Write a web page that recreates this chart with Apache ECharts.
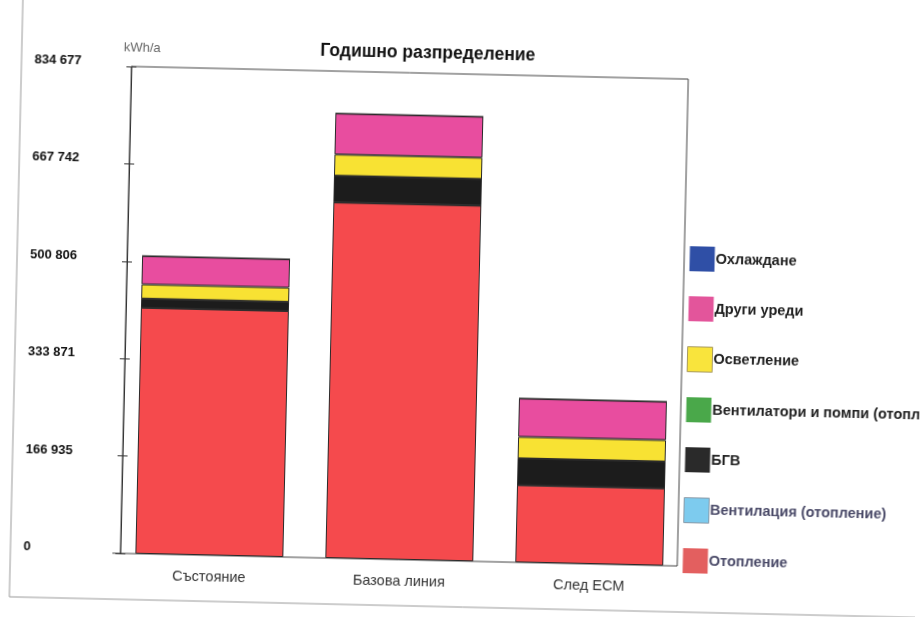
<!DOCTYPE html>
<html>
<head>
<meta charset="utf-8">
<script src="https://cdn.jsdelivr.net/npm/echarts@6/dist/echarts.min.js"></script>
<style>
  html, body { margin: 0; padding: 0; background: #ffffff; overflow: hidden; }
  #chart { width: 922px; height: 617px; transform: rotate(1.3deg); transform-origin: 50% 50%; }
</style>
</head>
<body>
<div id="chart"></div>
<script>
// Annual energy distribution, kWh/a
const categories = ['Състояние', 'Базова линия', 'След ECM'];
const heating     = [421800, 609700, 132500]; // Отопление
const ventHeating = [0, 0, 0];                // Вентилация (отопление)
const dhw         = [15500, 45700, 45800];    // БГВ
const fansPumps   = [0, 0, 0];                // Вентилатори и помпи (отопл.)
const lighting    = [24500, 36500, 36900];    // Осветление
const appliances  = [48600, 70300, 65700];    // Други уреди
const cooling     = [0, 0, 0];                // Охлаждане
const yTickLabels = ['0', '166 935', '333 871', '500 806', '667 742', '834 677'];
const yMax = 834677;

const chart = echarts.init(document.getElementById('chart'));

const border = { borderColor: '#2a2a2a', borderWidth: 1 };
function stackSeries(name, data, color) {
  return {
    name: name, type: 'bar', stack: 'total', data: data, barWidth: 148,
    itemStyle: Object.assign({ color: color }, border)
  };
}

const series = [
  stackSeries('Отопление', heating, '#f54a4d'),
  stackSeries('Вентилация (отопление)', ventHeating, '#7fcdee'),
  stackSeries('БГВ', dhw, '#1c1c1c'),
  stackSeries('Вентилатори и помпи (отопл.', fansPumps, '#4caa4c'),
  stackSeries('Осветление', lighting, '#f8e233'),
  stackSeries('Други уреди', appliances, '#e84d9f'),
  stackSeries('Охлаждане', cooling, '#2f4fa6')
];

const step = yMax / 5;
const tickLabel = function (v) { return yTickLabels[Math.round(v / step)] || ''; };

chart.setOption({
  animation: false,
  backgroundColor: '#ffffff',
  title: [
    {
      text: 'Годишно разпределение', left: 417, top: 40, textAlign: 'center',
      textStyle: { fontFamily: 'Liberation Sans', fontSize: 17.5, fontWeight: 'bold', color: '#111' }
    },
    {
      text: 'kWh/a', left: 113, top: 44,
      textStyle: { fontFamily: 'Liberation Sans', fontSize: 13, fontWeight: 'normal', color: '#666' }
    }
  ],
  legend: {
    orient: 'vertical', left: 683, top: 236,
    itemWidth: 25, itemHeight: 25, itemGap: 25,
    icon: 'rect',
    textStyle: { fontFamily: 'Liberation Sans', fontSize: 14.5, fontWeight: 'bold', color: '#222', padding: [0, 0, 0, -4] },
    data: [
      { name: 'Охлаждане', itemStyle: { color: '#2f4fa6', borderWidth: 0 } },
      { name: 'Други уреди', itemStyle: { color: '#e3559b', borderWidth: 0 } },
      { name: 'Осветление', itemStyle: { color: '#f9e43c', borderColor: '#a89a60', borderWidth: 1 } },
      { name: 'Вентилатори и помпи (отопл.', itemStyle: { color: '#4aa84a', borderWidth: 0 } },
      { name: 'БГВ', itemStyle: { color: '#2a2a2a', borderWidth: 0 } },
      { name: 'Вентилация (отопление)', itemStyle: { color: '#7dcbee', borderColor: '#8a9aa8', borderWidth: 1 }, textStyle: { color: '#4a4a68' } },
      { name: 'Отопление', itemStyle: { color: '#e35f5f', borderWidth: 0 }, textStyle: { color: '#4a4a68' } }
    ]
  },
  grid: { left: 120, top: 74, width: 570, height: 487, containLabel: false },
  xAxis: {
    type: 'category', data: categories,
    axisLine: { show: false }, axisTick: { show: false },
    axisLabel: { margin: 14, fontFamily: 'Liberation Sans', fontSize: 14.5, color: '#333' }
  },
  yAxis: [
    {
      type: 'value', min: 0, max: yMax, interval: step, offset: -6,
      axisLine: { show: true, lineStyle: { color: '#333', width: 1 } },
      axisTick: { show: true, inside: false, length: 5, lineStyle: { color: '#333' } },
      axisLabel: {
        formatter: tickLabel, margin: 97, align: 'left', verticalAlign: 'bottom',
        lineHeight: 9,
        fontFamily: 'Liberation Sans', fontSize: 13, fontWeight: 'bold', color: '#111'
      },
      splitLine: { show: false }
    },
    {
      type: 'value', position: 'left', min: 0, max: yMax, interval: step, offset: -6,
      axisLine: { show: false },
      axisTick: { show: true, inside: true, length: 5, lineStyle: { color: '#333' } },
      axisLabel: { show: false },
      splitLine: { show: false }
    }
  ],
  graphic: [
    {
      type: 'rect', silent: true, z: 0,
      shape: { x: 126, y: 74, width: 557, height: 487 },
      style: { fill: 'none', stroke: '#444', lineWidth: 1 }
    },
    {
      type: 'line', silent: true,
      shape: { x1: 118, y1: 561, x2: 126, y2: 561 },
      style: { stroke: '#444', lineWidth: 1 }
    },
    {
      type: 'polyline', silent: true,
      shape: { points: [[16, -20], [16, 607], [960, 607]] },
      style: { fill: 'none', stroke: '#9a9a9a', lineWidth: 1 }
    }
  ],
  series: series
});
</script>
</body>
</html>
